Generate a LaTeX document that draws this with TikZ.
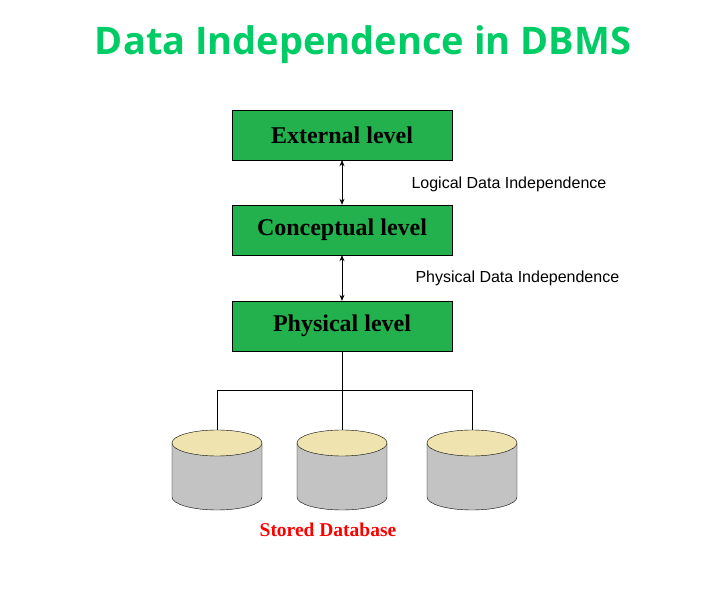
\documentclass[tikz,border=0pt]{standalone}
\usepackage{fontspec}
\setsansfont{Open Sans}
\setmainfont{Liberation Serif}
\newfontfamily\arialf{Liberation Sans}
\usetikzlibrary{arrows.meta}
\definecolor{titlegreen}{HTML}{00CC66}
\definecolor{boxgreen}{HTML}{22B14C}
\definecolor{cyltop}{HTML}{EFE4B0}
\definecolor{cylbody}{HTML}{C3C3C3}
\tikzset{
 lvl/.style={draw=black,fill=boxgreen,minimum width=220pt,minimum height=50pt,font=\fontsize{24}{27}\selectfont\bfseries},
 lab/.style={anchor=west,font=\arialf\fontsize{16}{18}\selectfont},
 dbl/.style={{Stealth[length=6pt,width=5pt]}-{Stealth[length=6pt,width=5pt]},thick},
 cylb/.style={draw=black,fill=cylbody},
 cylt/.style={draw=black,fill=cyltop}
}
\begin{document}
\begin{tikzpicture}[x=1pt,y=-1pt]
\useasboundingbox (0,0) rectangle (724,609);
\node[font=\sffamily\bfseries\fontsize{38}{44}\selectfont,text=titlegreen] (title) at (363,45) {Data Independence in DBMS};
\node[lvl] (ext) at (342,135) {External level};
\node[lvl] (con) at (342,230) {Conceptual level};
\node[lvl] (phy) at (342,326) {Physical level};
\draw[dbl] (ext.south) -- (con.north);
\draw[dbl] (con.south) -- (phy.north);
\node[lab] (l1) at (408,184) {Logical Data Independence};
\node[lab] (l2) at (412,278) {Physical Data Independence};
\coordinate (j) at (342,390);
\coordinate (jl) at (217,390);
\coordinate (jr) at (472,390);
\foreach \n/\x in {a/217,b/342,c/472}{
  \draw[cylb] (\x-45,443) -- (\x-45,497) arc[start angle=180,end angle=0,x radius=45,y radius=13] -- (\x+45,443);
  \draw[cylt] (\x,443) ellipse[x radius=45,y radius=13];
  \coordinate (\n) at (\x,430);
}
\draw (phy.south) -- (j);
\draw (jl) -- (jr);
\draw (jl) -- (a);
\draw (j) -- (b);
\draw (jr) -- (c);
\node[font=\fontsize{19.5}{22}\selectfont\bfseries,text=red] (sd) at (328,530) {Stored Database};
\end{tikzpicture}
\end{document}
